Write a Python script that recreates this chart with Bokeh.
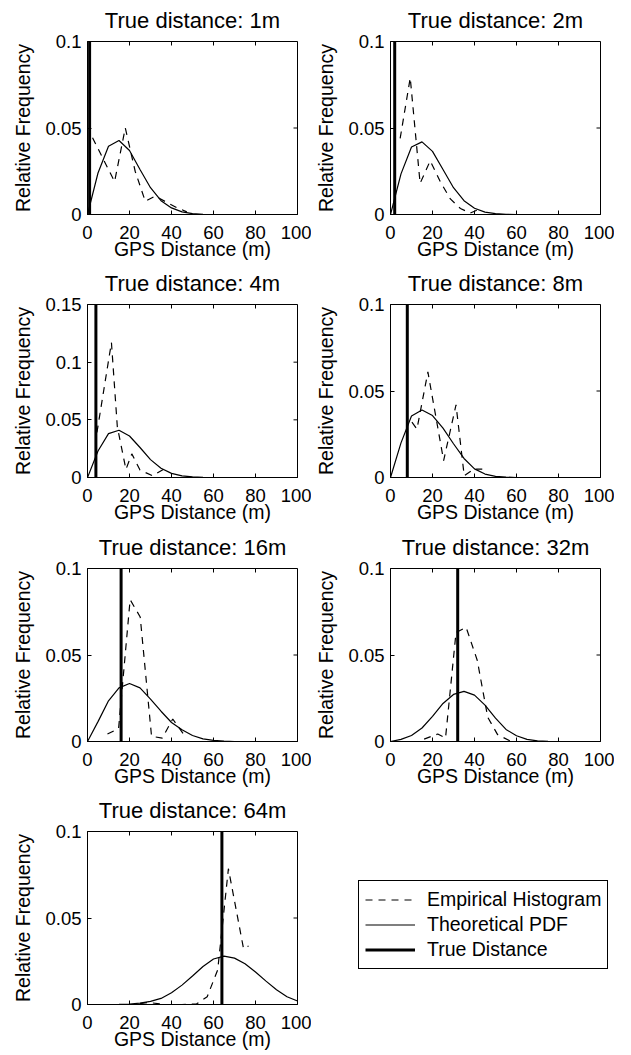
from bokeh.plotting import figure
from bokeh.models import Range1d, FixedTicker, Span, Legend, LegendItem
from bokeh.layouts import column, row
from bokeh.embed import file_html
from bokeh.resources import INLINE

FONT = "Liberation Sans"

titles = ["True distance: 1m", "True distance: 2m", "True distance: 4m",
          "True distance: 8m", "True distance: 16m", "True distance: 32m",
          "True distance: 64m"]
true_distance = [1, 2, 4, 8, 16, 32, 64]
x_label = "GPS Distance (m)"
y_label = "Relative Frequency"
legend_labels = ["Empirical Histogram", "Theoretical PDF", "True Distance"]

x_ticks = [0, 20, 40, 60, 80, 100]
y_ticks_a = [0, 0.05, 0.1]
y_tick_labels_a = ["0", "0.05", "0.1"]
y_ticks_b = [0, 0.05, 0.1, 0.15]
y_tick_labels_b = ["0", "0.05", "0.1", "0.15"]
y_max = [0.1, 0.1, 0.15, 0.1, 0.1, 0.1, 0.1]
x_max = 100

# Theoretical PDF (every 5 m)
pdf_x = [0, 5, 10, 15, 20, 25, 30, 35, 40, 45, 50, 55, 60, 65, 70, 75, 80, 85, 90, 95, 100]
pdf_1m = [0, 0.024, 0.0395, 0.0428, 0.037, 0.026, 0.0155, 0.008, 0.0038, 0.0015, 0.0005,
          0.0001, 0, 0, 0, 0, 0, 0, 0, 0, 0]
pdf_2m = [0, 0.0235, 0.039, 0.042, 0.0365, 0.026, 0.0155, 0.008, 0.0036, 0.0014, 0.0005,
          0.0001, 0, 0, 0, 0, 0, 0, 0, 0, 0]
pdf_4m = [0, 0.023, 0.038, 0.041, 0.036, 0.026, 0.0155, 0.008, 0.0036, 0.0014, 0.0005,
          0.0001, 0, 0, 0, 0, 0, 0, 0, 0, 0]
pdf_8m = [0, 0.02, 0.0355, 0.039, 0.0358, 0.0285, 0.0195, 0.011, 0.005, 0.002, 0.0007,
          0.0002, 0, 0, 0, 0, 0, 0, 0, 0, 0]
pdf_16m = [0, 0.0115, 0.0235, 0.031, 0.0335, 0.031, 0.0245, 0.0175, 0.011, 0.0068, 0.0035,
           0.0015, 0.0006, 0.0002, 0, 0, 0, 0, 0, 0, 0]
pdf_32m = [0, 0.0012, 0.0035, 0.0078, 0.0145, 0.022, 0.0272, 0.029, 0.0268, 0.021, 0.0135,
           0.007, 0.0033, 0.0012, 0.0004, 0.0001, 0, 0, 0, 0, 0]
pdf_64m = [0, 0, 0, 0.0001, 0.0003, 0.0008, 0.0018, 0.0035, 0.0068, 0.0112, 0.0165,
           0.022, 0.0263, 0.028, 0.0268, 0.0235, 0.0188, 0.0135, 0.0085, 0.0045, 0.002]

# Empirical histograms (bin centres and relative frequencies)
hist_1m_x = [2.4, 7.5, 12.9, 18.0, 22.7, 27.5, 32.2, 37.5, 42.5, 47.3]
hist_1m_y = [0.0444, 0.032, 0.019, 0.050, 0.025, 0.0077, 0.0106, 0.0072, 0.004, 0.0015]
hist_2m_x = [4.6, 9.4, 14.1, 18.9, 23.7, 28.5, 33.3, 38.0, 43.0]
hist_2m_y = [0.044, 0.079, 0.018, 0.031, 0.019, 0.009, 0.0035, 0.0008, 0.0035]
hist_4m_x = [4.5, 11.4, 14.2, 18.3, 21.1, 25.0, 31.0, 36.2]
hist_4m_y = [0.039, 0.117, 0.044, 0.007, 0.0205, 0.0065, 0.0015, 0.007]
hist_8m_x = [10.2, 12.6, 17.8, 25.3, 31.2, 35.1, 39.7, 43.7]
hist_8m_y = [0.032, 0.028, 0.061, 0.0098, 0.042, 0.001, 0.0048, 0.0048]
hist_16m_x = [9.5, 14.8, 20.3, 25.1, 30.5, 35.6, 40.6, 45.7]
hist_16m_y = [0.0043, 0.0075, 0.082, 0.072, 0.003, 0.002, 0.013, 0.0043]
hist_32m_x = [16.0, 22.5, 26.2, 31.2, 36.0, 41.3, 46.3, 51.0, 57.0]
hist_32m_y = [0.0014, 0.0043, 0.002, 0.063, 0.066, 0.047, 0.014, 0.004, 0.0003]
hist_64m_x = [25.0, 29.0, 37.0, 45.0, 52.0, 57.0, 62.0, 67.1, 74.3, 76.7]
hist_64m_y = [0.0005, 0.0012, 0.0, 0.0, 0.0004, 0.0045, 0.020, 0.0785, 0.0323, 0.0338]

pdfs = [pdf_1m, pdf_2m, pdf_4m, pdf_8m, pdf_16m, pdf_32m, pdf_64m]
hists = [(hist_1m_x, hist_1m_y), (hist_2m_x, hist_2m_y), (hist_4m_x, hist_4m_y),
         (hist_8m_x, hist_8m_y), (hist_16m_x, hist_16m_y), (hist_32m_x, hist_32m_y),
         (hist_64m_x, hist_64m_y)]

DASH = "7 6"
THIN = 1.2
THICK = 3
FRAME_W = 210
FRAME_H = 173
TOP = 47
BOTTOM = [52, 52, 52, 50]
TICK_PX = 4


def make_panel(i, bottom):
    ymax = y_max[i]
    if ymax > 0.1:
        yt, yl = y_ticks_b, y_tick_labels_b
    else:
        yt, yl = y_ticks_a, y_tick_labels_a
    p = figure(frame_width=FRAME_W, frame_height=FRAME_H,
               output_backend="svg", toolbar_location=None,
               x_range=Range1d(0, x_max), y_range=Range1d(0, ymax),
               min_border_left=79, min_border_right=14, min_border_top=TOP,
               min_border_bottom=bottom, title=titles[i])
    p.title.text_font = FONT
    p.title.text_font_size = "22px"
    p.title.text_font_style = "normal"
    p.title.align = "center"
    p.title.standoff = 18
    p.title.text_color = "black"
    p.xgrid.visible = False
    p.ygrid.visible = False
    p.outline_line_color = "black"
    p.outline_line_alpha = 1
    p.outline_line_width = 1
    p.background_fill_color = "white"
    p.border_fill_color = None

    xa = p.xaxis[0]
    xa.ticker = FixedTicker(ticks=x_ticks)
    xa.axis_label = x_label
    ya = p.yaxis[0]
    ya.ticker = FixedTicker(ticks=yt)
    ya.major_label_overrides = {t: l for t, l in zip(yt, yl)}
    ya.axis_label = y_label
    for ax in (xa, ya):
        ax.major_label_text_font = FONT
        ax.major_label_text_font_size = "18.5px"
        ax.major_label_text_color = "black"
        ax.axis_label_text_font = FONT
        ax.axis_label_text_font_size = "19.5px"
        ax.axis_label_text_font_style = "normal"
        ax.axis_label_text_color = "black"
        ax.major_tick_in = TICK_PX
        ax.major_tick_out = 0
        ax.minor_tick_line_color = None
        ax.axis_line_color = "black"
        ax.major_tick_line_color = "black"
    xa.major_label_standoff = 11
    xa.axis_label_standoff = -4
    ya.major_label_standoff = 6
    ya.axis_label_standoff = 8

    hx, hy = hists[i]
    p.line(hx, hy, line_color="black", line_width=THIN, line_dash=DASH)
    p.line(pdf_x, pdfs[i], line_color="black", line_width=THIN)
    p.add_layout(Span(location=true_distance[i], dimension="height",
                      line_color="black", line_width=THICK))

    # mirrored tick marks on the top and right edges of the box
    dy = ymax * TICK_PX / FRAME_H
    dx = x_max * TICK_PX / FRAME_W
    p.segment(x0=x_ticks, y0=[ymax] * len(x_ticks), x1=x_ticks,
              y1=[ymax - dy] * len(x_ticks), line_color="black", line_width=1)
    p.segment(x0=[x_max] * len(yt), y0=yt, x1=[x_max - dx] * len(yt), y1=yt,
              line_color="black", line_width=1)
    return p


figs = []
for i in range(7):
    figs.append(make_panel(i, BOTTOM[i // 2]))

# legend panel
lg = figure(frame_width=303, frame_height=FRAME_H, output_backend="svg", toolbar_location=None,
            x_axis_type=None, y_axis_type=None,
            x_range=Range1d(0, 1), y_range=Range1d(0, 1),
            min_border=0, min_border_left=0, min_border_right=0,
            min_border_top=TOP, min_border_bottom=BOTTOM[3])
lg.outline_line_color = None
lg.background_fill_color = None
lg.border_fill_color = None
nan = float("nan")
r1 = lg.line(x=[nan], y=[nan], line_color="black", line_width=THIN, line_dash=DASH)
r2 = lg.line(x=[nan], y=[nan], line_color="black", line_width=THIN)
r3 = lg.line(x=[nan], y=[nan], line_color="black", line_width=THICK)
legend = Legend(items=[LegendItem(label=legend_labels[0], renderers=[r1]),
                       LegendItem(label=legend_labels[1], renderers=[r2]),
                       LegendItem(label=legend_labels[2], renderers=[r3])],
                location=(47, 35))
legend.border_line_color = "black"
legend.border_line_width = 1
legend.border_line_alpha = 1
legend.background_fill_color = "white"
legend.background_fill_alpha = 1
legend.padding = 6
legend.spacing = 0
legend.margin = 0
legend.label_height = 25
legend.glyph_height = 25
legend.glyph_width = 50
legend.label_standoff = 12
legend.label_text_font = FONT
legend.label_text_font_size = "19.5px"
legend.label_text_color = "black"
lg.add_layout(legend)
figs.append(lg)

row_overlap = [-9, -8, -9, 0]
rows = []
for k in range(4):
    r = row(figs[2 * k], figs[2 * k + 1], spacing=0)
    r.margin = (0, 0, row_overlap[k], 0)
    rows.append(r)
layout = column(*rows, spacing=0)
layout.margin = (-6, 0, 0, 8)

with open("out.html", "w") as f:
    f.write(file_html(layout, INLINE))
